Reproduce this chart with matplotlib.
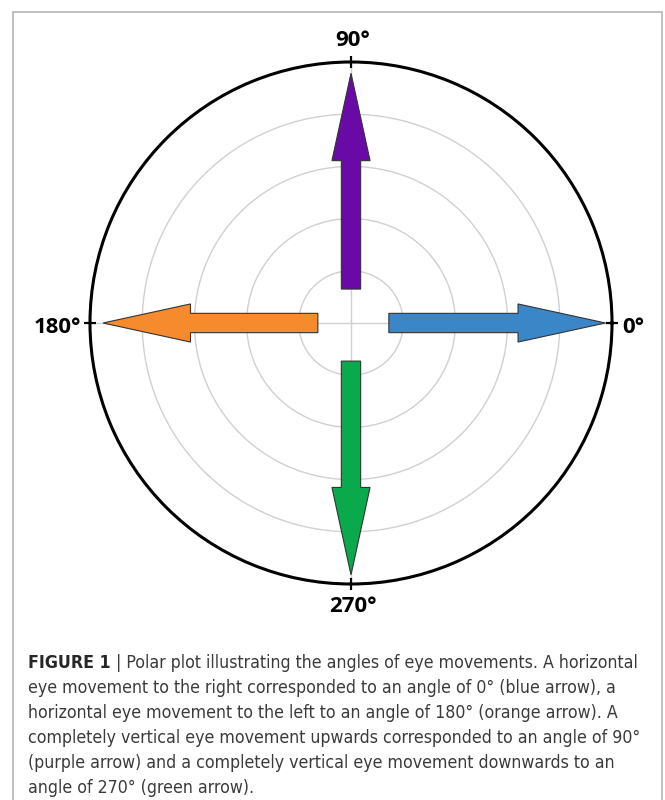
import numpy as np
import matplotlib
matplotlib.use("Agg")
from matplotlib import pyplot as plt
from matplotlib import font_manager
from matplotlib.patches import FancyArrow, Rectangle

# 数据
angles_deg = [0, 90, 180, 270]
angle_labels = ["0°", "90°", "180°", "270°"]
r_start = [0.145, 0.13, 0.127, 0.146]
r_end = [0.975, 0.957, 0.95, 0.965]
arrow_colors = ["#3b86c6", "#6a0aa6", "#f68b2e", "#0aa94c"]
ring_r = [0.2, 0.4, 0.6, 0.8]

caption_head = "FIGURE 1"
caption_lines = [
    " | Polar plot illustrating the angles of eye movements. A horizontal",
    "eye movement to the right corresponded to an angle of 0° (blue arrow), a",
    "horizontal eye movement to the left to an angle of 180° (orange arrow). A",
    "completely vertical eye movement upwards corresponded to an angle of 90°",
    "(purple arrow) and a completely vertical eye movement downwards to an",
    "angle of 270° (green arrow).",
]

# 找一个窄体字体做图注，没有就用 DejaVu
cap_family = "DejaVu Sans"
for f in font_manager.fontManager.ttflist:
    if f.name == "Noto Sans" and "condensed" in str(f.stretch):
        cap_family = "Noto Sans"
        break

W, H = 665, 800
fig = plt.figure(figsize=(W / 100, H / 100), dpi=100)

# 外框
fig.patches.append(Rectangle((13 / W, -0.02), 649 / W, 1.02 - 12 / H,
                             transform=fig.transFigure, fill=False,
                             edgecolor="#b5b5b5", linewidth=1.2))

cx, cy, R = 351, 323, 261
pos = [(cx - R) / W, (H - cy - R) / H, 2 * R / W, 2 * R / H]

ax = fig.add_axes(pos, projection="polar")
ax.set_ylim(0, 1)
ax.set_yticks(ring_r)
ax.set_yticklabels([])
ax.set_thetagrids(angles_deg, [""] * len(angles_deg))
ax.grid(color="#d0d0d0", linewidth=1.0)
ax.spines["polar"].set_linewidth(2.2)
ax.spines["polar"].set_color("black")
ax.tick_params(axis="x", bottom=False, top=True, direction="inout",
               length=4.5, width=1.6, colors="black")

# 角度标签（像素偏移 -> 点）
offsets = {0: (10, -2, "left", "center_baseline"),
           90: (2, 16, "center", "baseline"),
           180: (-9, -2, "right", "center_baseline"),
           270: (2, -12, "center", "top")}
for a, lab in zip(angles_deg, angle_labels):
    ox, oy, ha, va = offsets[a]
    ax.annotate(lab, xy=(np.deg2rad(a), 1), xytext=(ox * 0.72, oy * 0.72),
                textcoords="offset points", ha=ha, va=va, fontsize=16,
                fontweight="bold", family=["Open Sans", "DejaVu Sans"],
                annotation_clip=False)

# 箭头画在同位置的直角坐标轴上
ov = fig.add_axes(pos, frameon=False)
ov.set_xlim(-1, 1)
ov.set_ylim(-1, 1)
ov.axis("off")

for a, r0, r1, c in zip(angles_deg, r_start, r_end, arrow_colors):
    t = np.deg2rad(a)
    x0, y0 = r0 * np.cos(t), r0 * np.sin(t)
    dx, dy = (r1 - r0) * np.cos(t), (r1 - r0) * np.sin(t)
    ov.add_patch(FancyArrow(x0, y0, dx, dy, width=0.074, head_width=0.146,
                            head_length=0.335, length_includes_head=True,
                            facecolor=c, edgecolor="#333333", linewidth=0.8))

# 图注
x_left = 28 / W
y0 = 1 - 668 / H
step = 25 / H
fs = 12
t1 = fig.text(x_left, y0, caption_head, fontsize=fs, fontweight="bold",
              family=cap_family, fontstretch="condensed", color="#262626",
              va="baseline")
t2 = ov.annotate(caption_lines[0], xy=(1, 0), xycoords=t1, fontsize=fs,
                 family=cap_family, fontstretch="condensed", fontweight="light",
                 color="#3a3a3a", va="bottom", ha="left", annotation_clip=False)
rest = []
for i, line in enumerate(caption_lines[1:], start=1):
    rest.append(fig.text(x_left, y0 - i * step, line, fontsize=fs,
                         family=cap_family, fontstretch="condensed",
                         fontweight="light", color="#3a3a3a", va="baseline"))

# 按参考图第一行宽度(约608像素)缩放字号
rend = fig.canvas.get_renderer()
w = t1.get_window_extent(rend).width + t2.get_window_extent(rend).width
fs = fs * 608 / w
for t in [t1, t2] + rest:
    t.set_fontsize(fs)

plt.savefig("out.png", dpi=100)
